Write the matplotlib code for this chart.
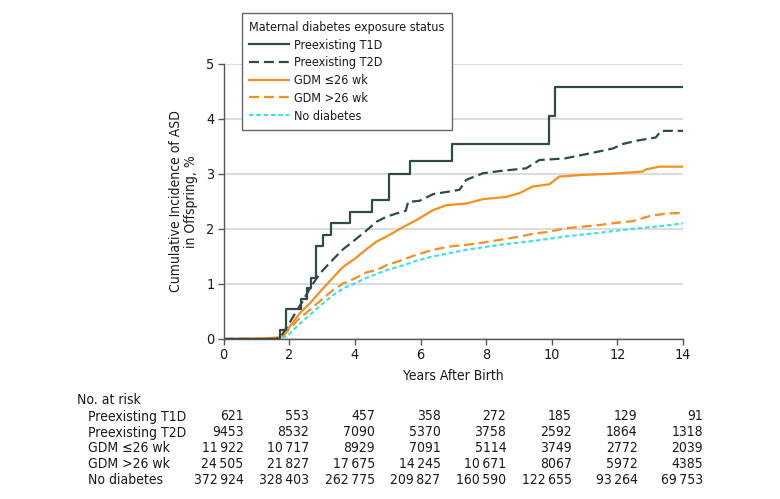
import matplotlib
matplotlib.use('Agg')
import matplotlib.pyplot as plt
from matplotlib.transforms import blended_transform_factory, ScaledTranslation
from matplotlib.lines import Line2D

plt.rcParams['font.family'] = ['DejaVu Sans']
plt.rcParams['font.stretch'] = 'condensed'

# ---------------- data ----------------
series_labels = ['Preexisting T1D', 'Preexisting T2D', 'GDM \u226426 wk', 'GDM >26 wk', 'No diabetes']

t1d_t = [0, 1.72, 1.90, 2.37, 2.55, 2.65, 2.80, 3.04, 3.27, 3.84, 4.51, 5.04, 5.67, 6.97, 9.91, 10.09, 14]
t1d_v = [0, 0.16, 0.54, 0.73, 0.92, 1.11, 1.69, 1.89, 2.10, 2.31, 2.52, 2.99, 3.24, 3.55, 4.05, 4.58, 4.58]

t2d_t = [0, 1.60, 1.75, 2.00, 2.40, 2.63, 2.93, 3.34, 3.64, 4.00, 4.35, 4.66, 4.96, 5.37, 5.55, 5.62, 5.97, 6.38,
         7.19, 7.39, 7.90, 8.41, 9.22, 9.62, 10.40, 11.15, 11.86, 12.16, 12.57, 13.17, 13.33, 14]
t2d_v = [0, 0, 0.05, 0.29, 0.68, 0.92, 1.19, 1.45, 1.63, 1.80, 1.97, 2.13, 2.22, 2.30, 2.33, 2.49, 2.51, 2.63,
         2.71, 2.89, 3.01, 3.05, 3.10, 3.25, 3.28, 3.37, 3.46, 3.54, 3.60, 3.66, 3.78, 3.78]

gdm1_t = [0, 1.20, 1.70, 1.97, 2.32, 2.63, 3.03, 3.34, 3.64, 4.00, 4.35, 4.66, 4.96, 5.37, 5.87, 6.38, 6.78,
          7.39, 7.90, 8.61, 9.02, 9.42, 9.93, 10.23, 10.94, 11.75, 12.77, 12.87, 13.28, 14]
gdm1_v = [0, 0.01, 0.03, 0.19, 0.47, 0.65, 0.92, 1.12, 1.31, 1.46, 1.63, 1.77, 1.86, 2.00, 2.16, 2.34, 2.43,
          2.46, 2.54, 2.58, 2.65, 2.77, 2.81, 2.95, 2.98, 3.00, 3.04, 3.08, 3.13, 3.13]

gdm2_t = [0, 1.50, 1.75, 1.97, 2.32, 2.63, 3.03, 3.34, 3.64, 4.00, 4.35, 4.66, 4.96, 5.37, 5.87, 6.38, 6.89,
          7.39, 7.90, 8.41, 9.02, 9.42, 9.93, 10.40, 11.45, 11.96, 12.46, 12.97, 13.48, 14]
gdm2_v = [0, 0, 0.02, 0.16, 0.38, 0.53, 0.74, 0.89, 1.01, 1.10, 1.21, 1.25, 1.34, 1.42, 1.53, 1.62, 1.68,
          1.71, 1.75, 1.80, 1.86, 1.91, 1.95, 2.01, 2.07, 2.11, 2.14, 2.23, 2.28, 2.29]

nod_t = [0, 1.70, 1.97, 2.32, 2.63, 3.03, 3.34, 3.64, 4.00, 4.35, 4.96, 5.37, 5.87, 6.38, 7.39, 8.41, 9.42,
         10.40, 11.45, 12.46, 13.48, 14]
nod_v = [0, 0, 0.07, 0.28, 0.44, 0.65, 0.80, 0.92, 1.01, 1.11, 1.25, 1.32, 1.42, 1.50, 1.62, 1.71, 1.78,
         1.86, 1.93, 2.00, 2.06, 2.10]

risk_years = [0, 2, 4, 6, 8, 10, 12, 14]
risk_t1d = ['621', '553', '457', '358', '272', '185', '129', '91']
risk_t2d = ['9453', '8532', '7090', '5370', '3758', '2592', '1864', '1318']
risk_gdm1 = ['11\u2009922', '10\u2009717', '8929', '7091', '5114', '3749', '2772', '2039']
risk_gdm2 = ['24\u2009505', '21\u2009827', '17\u2009675', '14\u2009245', '10\u2009671', '8067', '5972', '4385']
risk_nod = ['372\u2009924', '328\u2009403', '262\u2009775', '209\u2009827', '160\u2009590', '122\u2009655', '93\u2009264', '69\u2009753']

# ---------------- styling ----------------
DARK = '#2d4b48'
ORANGE = '#f5901e'
CYAN = '#3fe0f0'
TXT = '#1a1a1a'
W, H = 780, 499
FS = 10.0
LFS = 9.0

fig = plt.figure(figsize=(W / 100, H / 100), dpi=100)
x0, x1, y0, y1 = 223.7, 683.0, 339.0, 63.7
ax = fig.add_axes([x0 / W, 1 - y0 / H, (x1 - x0) / W, (y0 - y1) / H])

lw = 1.6
ax.plot(nod_t, nod_v, color=CYAN, lw=lw, dashes=(2.0, 1.3), zorder=3)
ax.plot(gdm2_t, gdm2_v, color=ORANGE, lw=lw, dashes=(4.5, 2.2), zorder=4)
ax.plot(gdm1_t, gdm1_v, color=ORANGE, lw=lw, zorder=5)
ax.plot(t2d_t, t2d_v, color=DARK, lw=lw, dashes=(4.5, 2.2), zorder=6)
ax.step(t1d_t, t1d_v, where='post', color=DARK, lw=lw, zorder=7)

ax.set_xlim(0, 14)
ax.set_ylim(0, 5)
ax.set_xticks(risk_years)
ax.set_yticks([0, 1, 2, 3, 4, 5])
for s in ['top', 'right']:
    ax.spines[s].set_visible(False)
for s in ['left', 'bottom']:
    ax.spines[s].set_color('#555555')
    ax.spines[s].set_linewidth(1.0)
ax.yaxis.grid(True, color='#dcdcdc', lw=1.5)
ax.set_axisbelow(True)
ax.tick_params(length=4, width=1, color='#555555', direction='out', labelsize=10.4, pad=2.5, labelcolor=TXT)

ax.set_xlabel('Years After Birth', fontsize=FS, color=TXT)
ax.xaxis.set_label_coords(0.5, -(369 - y0) / (y0 - y1))
ax.set_ylabel('Cumulative Incidence of ASD\nin Offspring, %', fontsize=FS, color=TXT, linespacing=1.12)
ax.yaxis.set_label_coords(-(223.7 - 198) / (x1 - x0), 0.5)

# legend
handles = [
    Line2D([], [], color=DARK, lw=lw),
    Line2D([], [], color=DARK, lw=lw, dashes=(4.5, 2.2)),
    Line2D([], [], color=ORANGE, lw=lw),
    Line2D([], [], color=ORANGE, lw=lw, dashes=(4.5, 2.2)),
    Line2D([], [], color=CYAN, lw=lw, dashes=(2.0, 1.3)),
]
leg = fig.legend(handles, series_labels, title='Maternal diabetes exposure status',
                 loc='upper left', bbox_to_anchor=(241.7 / W, 1 - 13.3 / H),
                 bbox_transform=fig.transFigure, frameon=True, fancybox=False,
                 edgecolor='#666666', framealpha=1, fontsize=LFS, title_fontsize=LFS,
                 alignment='left', handlelength=3.2, handletextpad=0.4,
                 labelspacing=0.38, borderpad=0.6, borderaxespad=0)
leg.get_frame().set_linewidth(1.0)
for t in leg.get_texts():
    t.set_color(TXT)
leg.get_title().set_color(TXT)

# number at risk table
trans = blended_transform_factory(ax.transData, fig.transFigure) + ScaledTranslation(0.20, 0, fig.dpi_scale_trans)
fig.text(77.3 / W, 1 - 400 / H, 'No. at risk', fontsize=FS, color=TXT, va='center', ha='left')
rows = [risk_t1d, risk_t2d, risk_gdm1, risk_gdm2, risk_nod]
row_y = [416.5, 432.5, 448.5, 464.5, 480.5]
for lab, vals, yy in zip(series_labels, rows, row_y):
    fig.text(88.3 / W, 1 - yy / H, lab, fontsize=FS, color=TXT, va='center', ha='left')
    for yr, v in zip(risk_years, vals):
        fig.text(yr, 1 - yy / H, v, transform=trans, fontsize=FS, color=TXT, va='center', ha='right')

fig.savefig('out.png', dpi=100)
